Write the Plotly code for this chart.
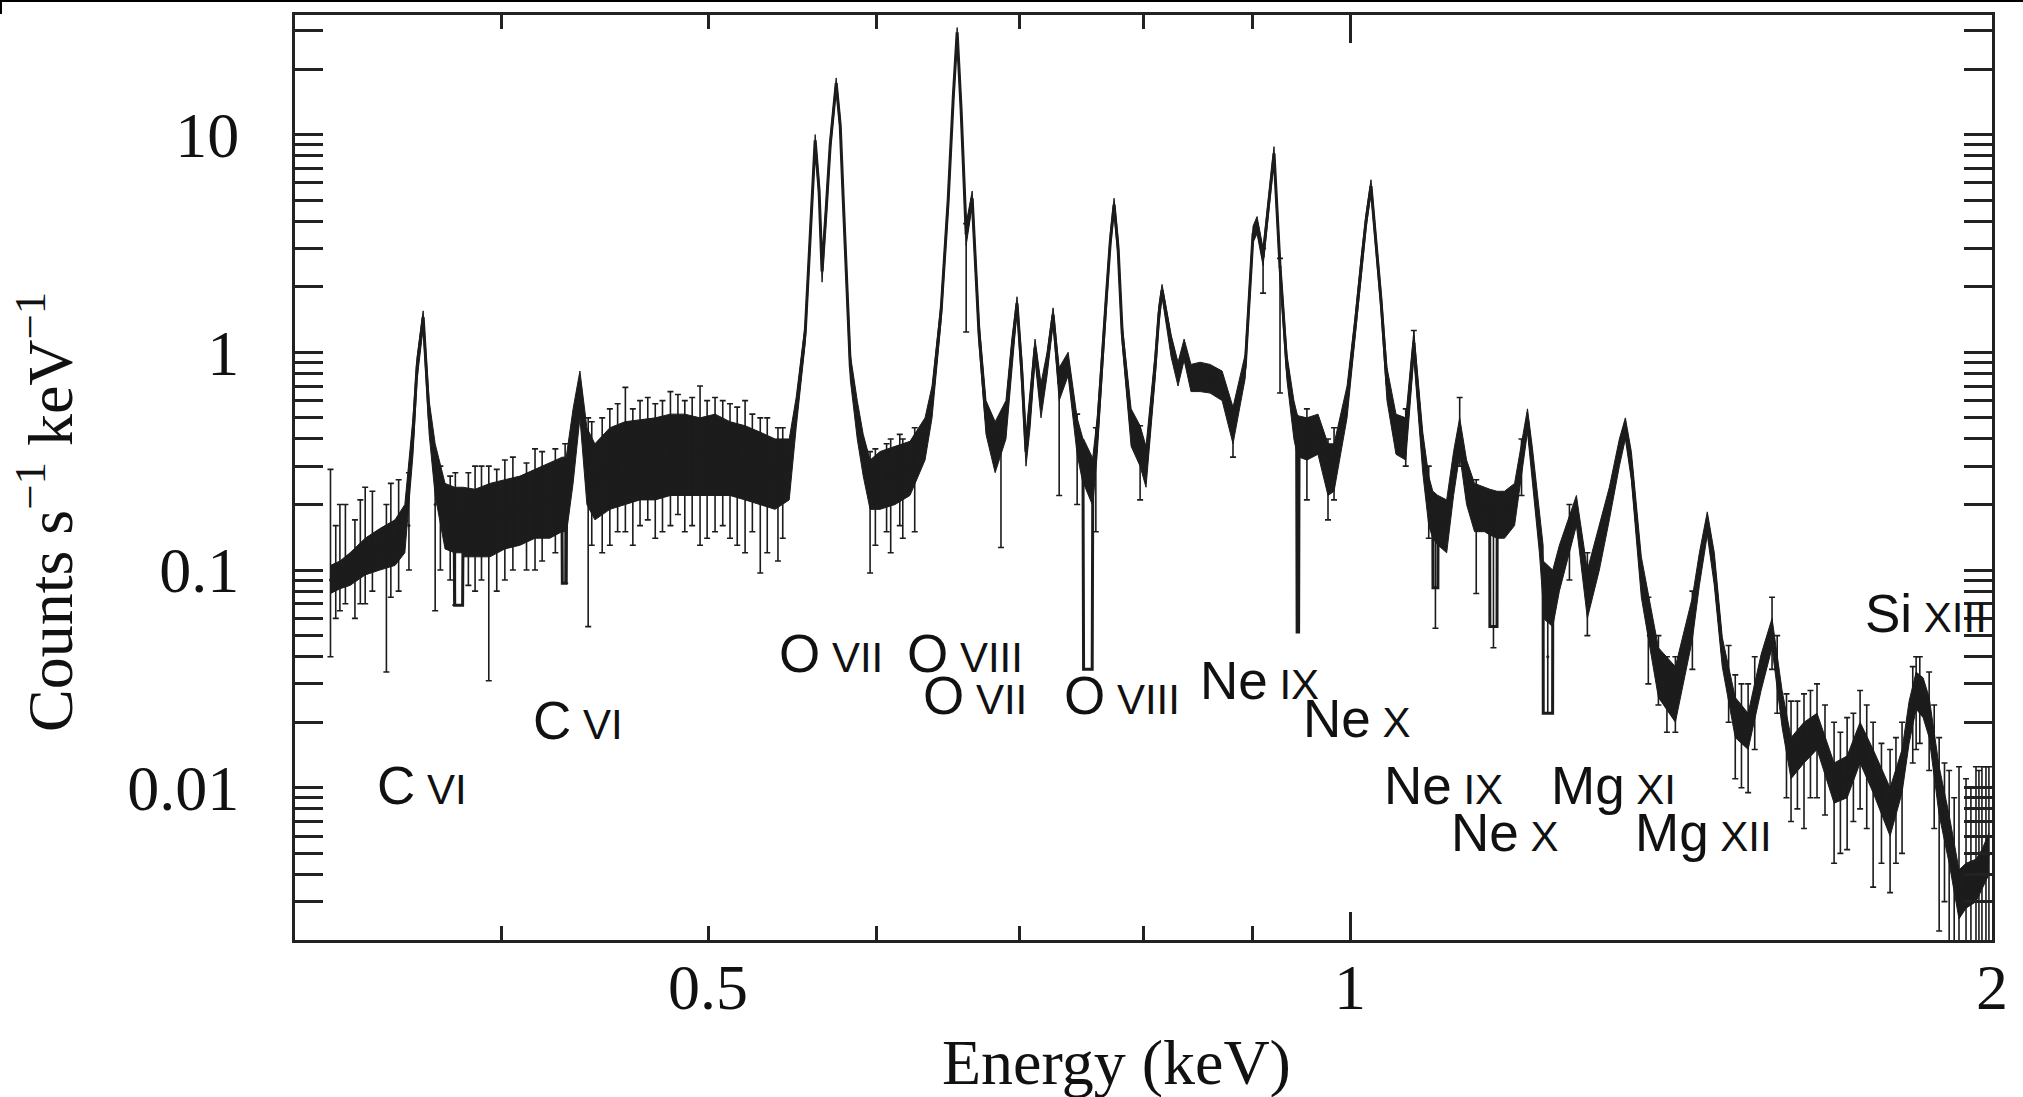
import math
import plotly.graph_objects as go

# ---------------- data ----------------
energy = [0.3326, 0.3360, 0.3397, 0.3453, 0.3508, 0.3566, 0.3604, 0.3636, 0.3652, 0.3676,
          0.3700, 0.3724, 0.3764, 0.3801, 0.3803, 0.3836, 0.3838, 0.3888, 0.3951, 0.4015,
          0.4081, 0.4148, 0.4215, 0.4270, 0.4272, 0.4290, 0.4292, 0.4322, 0.4354, 0.4387,
          0.4425, 0.4497, 0.4571, 0.4646, 0.4723, 0.4801, 0.4876, 0.4957, 0.5038, 0.5120,
          0.5204, 0.5289, 0.5375, 0.5458, 0.5499, 0.5553, 0.5582, 0.5613, 0.5637, 0.5655,
          0.5680, 0.5705, 0.5742, 0.5767, 0.5786, 0.5830, 0.5874, 0.5912, 0.5956, 0.6020,
          0.6119, 0.6218, 0.6320, 0.6368, 0.6431, 0.6480, 0.6516, 0.6543, 0.6571, 0.6607,
          0.6650, 0.6699, 0.6750, 0.6817, 0.6897, 0.6941, 0.6980, 0.7017, 0.7048, 0.7079,
          0.7117, 0.7163, 0.7210, 0.7257, 0.7305, 0.7376, 0.7448, 0.7495, 0.7500, 0.7570,
          0.7575, 0.7611, 0.7685, 0.7719, 0.7751, 0.7785, 0.7819, 0.7895, 0.7972, 0.8023,
          0.8102, 0.8136, 0.8163, 0.8198, 0.8244, 0.8305, 0.8360, 0.8422, 0.8505, 0.8597,
          0.8710, 0.8813, 0.8930, 0.9006, 0.9045, 0.9104, 0.9152, 0.9212, 0.9272, 0.9341,
          0.9412, 0.9440, 0.9445, 0.9460, 0.9465, 0.9545, 0.9660, 0.9765, 0.9829, 0.9968,
          1.0054, 1.0119, 1.0174, 1.0229, 1.0285, 1.0340, 1.0407, 1.0509, 1.0620, 1.0713,
          1.0817, 1.0887, 1.0935, 1.0937, 1.0995, 1.0997, 1.1100, 1.1183, 1.1257, 1.1341,
          1.1439, 1.1563, 1.1628, 1.1630, 1.1720, 1.1722, 1.1815, 1.1944, 1.2034, 1.2112,
          1.2178, 1.2269, 1.2318, 1.2320, 1.2445, 1.2447, 1.2536, 1.2673, 1.2769, 1.2921,
          1.3089, 1.3231, 1.3375, 1.3462, 1.3549, 1.3696, 1.3951, 1.4209, 1.4472, 1.4582,
          1.4707, 1.4819, 1.4947, 1.5158, 1.5370, 1.5587, 1.5772, 1.5944, 1.6099, 1.6326,
          1.6557, 1.6865, 1.7104, 1.7345, 1.7591, 1.7916, 1.8149, 1.8288, 1.8427, 1.8567,
          1.8688, 1.8891, 1.9096, 1.9300, 1.9447, 1.9657, 1.9784, 1.9934]

counts = [0.090, 0.095, 0.100, 0.115, 0.125, 0.135, 0.160, 0.420, 0.860, 1.450,
          0.500, 0.300, 0.180, 0.170, 0.069, 0.069, 0.170, 0.160, 0.170, 0.180,
          0.190, 0.200, 0.210, 0.220, 0.087, 0.087, 0.230, 0.400, 0.700, 0.320,
          0.260, 0.300, 0.320, 0.330, 0.340, 0.340, 0.350, 0.340, 0.350, 0.330,
          0.320, 0.300, 0.280, 0.300, 0.530, 1.230, 3.500, 9.400, 5.500, 2.350,
          4.500, 9.000, 17.20, 11.00, 5.000, 0.860, 0.500, 0.350, 0.250, 0.260,
          0.280, 0.300, 0.400, 0.600, 1.560, 5.000, 15.00, 29.50, 13.00, 3.500,
          5.100, 1.230, 0.500, 0.380, 0.500, 1.000, 1.680, 0.800, 0.350, 0.550,
          1.050, 0.600, 0.900, 1.490, 0.720, 0.890, 0.420, 0.330, 0.035, 0.035,
          0.260, 0.420, 1.740, 3.200, 4.770, 3.000, 1.230, 0.450, 0.380, 0.300,
          0.860, 1.500, 1.930, 1.500, 1.100, 0.800, 1.050, 0.770, 0.780, 0.760,
          0.700, 0.470, 0.860, 3.500, 3.900, 2.750, 4.500, 8.200, 2.470, 0.860,
          0.500, 0.420, 0.052, 0.052, 0.400, 0.400, 0.420, 0.300, 0.300, 0.600,
          1.300, 2.470, 4.000, 5.800, 3.200, 1.740, 0.720, 0.420, 0.400, 1.100,
          0.350, 0.210, 0.180, 0.083, 0.083, 0.170, 0.160, 0.280, 0.420, 0.260,
          0.200, 0.190, 0.185, 0.055, 0.055, 0.180, 0.180, 0.200, 0.320, 0.490,
          0.300, 0.148, 0.100, 0.022, 0.022, 0.075, 0.100, 0.150, 0.190, 0.080,
          0.130, 0.200, 0.350, 0.450, 0.300, 0.093, 0.034, 0.027, 0.060, 0.100,
          0.165, 0.100, 0.042, 0.021, 0.018, 0.034, 0.052, 0.023, 0.0135, 0.016,
          0.018, 0.0105, 0.011, 0.016, 0.012, 0.0078, 0.012, 0.020, 0.028, 0.026,
          0.021, 0.0097, 0.0058, 0.0032, 0.0035, 0.0037, 0.0042, 0.0050]

band_lo = [0.078, 0.082, 0.085, 0.095, 0.100, 0.105, 0.120, 0.340, 0.750, 1.300,
           0.420, 0.220, 0.125, 0.120, 0.120, 0.120, 0.115, 0.115, 0.115, 0.125,
           0.130, 0.140, 0.140, 0.150, 0.150, 0.150, 0.150, 0.250, 0.500, 0.200,
           0.170, 0.190, 0.200, 0.210, 0.210, 0.220, 0.220, 0.220, 0.220, 0.220,
           0.210, 0.200, 0.190, 0.210, 0.450, 1.100, 3.200, 8.800, 5.000, 2.100,
           4.100, 8.400, 16.20, 10.20, 4.600, 0.750, 0.400, 0.270, 0.190, 0.190,
           0.200, 0.220, 0.320, 0.500, 1.400, 4.600, 14.00, 28.00, 12.00, 3.100,
           4.700, 1.100, 0.420, 0.280, 0.400, 0.850, 1.550, 0.680, 0.300, 0.450,
           0.920, 0.500, 0.780, 1.350, 0.600, 0.780, 0.340, 0.250, 0.250, 0.200,
           0.200, 0.340, 1.600, 3.000, 4.400, 2.700, 1.100, 0.370, 0.300, 0.240,
           0.750, 1.350, 1.800, 1.350, 0.950, 0.700, 0.920, 0.660, 0.660, 0.650,
           0.600, 0.380, 0.760, 3.200, 3.500, 2.500, 4.100, 7.600, 2.200, 0.750,
           0.400, 0.340, 0.340, 0.330, 0.330, 0.320, 0.340, 0.220, 0.230, 0.500,
           1.150, 2.250, 3.700, 5.400, 2.900, 1.550, 0.600, 0.340, 0.320, 0.950,
           0.280, 0.160, 0.140, 0.140, 0.130, 0.130, 0.120, 0.220, 0.340, 0.200,
           0.150, 0.150, 0.145, 0.145, 0.140, 0.140, 0.140, 0.160, 0.270, 0.430,
           0.250, 0.120, 0.070, 0.060, 0.055, 0.055, 0.080, 0.120, 0.160, 0.060,
           0.100, 0.170, 0.300, 0.400, 0.260, 0.075, 0.026, 0.020, 0.048, 0.085,
           0.145, 0.085, 0.036, 0.017, 0.015, 0.028, 0.044, 0.019, 0.011, 0.013,
           0.015, 0.0085, 0.009, 0.013, 0.0095, 0.006, 0.0095, 0.016, 0.023, 0.021,
           0.017, 0.0075, 0.0045, 0.0025, 0.0028, 0.0030, 0.0034, 0.0040]

band_hi = [0.105, 0.110, 0.120, 0.140, 0.155, 0.170, 0.200, 0.500, 0.950, 1.550,
           0.600, 0.380, 0.250, 0.240, 0.240, 0.240, 0.240, 0.235, 0.250, 0.260,
           0.270, 0.290, 0.310, 0.330, 0.330, 0.330, 0.340, 0.550, 0.820, 0.450,
           0.380, 0.450, 0.480, 0.490, 0.500, 0.520, 0.520, 0.500, 0.520, 0.480,
           0.460, 0.430, 0.400, 0.400, 0.620, 1.350, 3.800, 10.00, 6.000, 2.600,
           4.900, 9.600, 18.20, 11.80, 5.400, 0.980, 0.600, 0.420, 0.320, 0.350,
           0.370, 0.390, 0.500, 0.700, 1.700, 5.400, 16.00, 31.00, 14.00, 3.900,
           5.500, 1.400, 0.600, 0.480, 0.600, 1.150, 1.800, 0.920, 0.420, 0.650,
           1.150, 0.720, 1.000, 1.600, 0.850, 1.000, 0.500, 0.400, 0.400, 0.330,
           0.330, 0.500, 1.900, 3.500, 5.100, 3.300, 1.350, 0.550, 0.460, 0.370,
           0.980, 1.650, 2.050, 1.650, 1.200, 0.900, 1.150, 0.880, 0.900, 0.880,
           0.820, 0.560, 0.980, 3.800, 4.200, 3.000, 4.900, 8.800, 2.700, 0.980,
           0.600, 0.520, 0.520, 0.510, 0.510, 0.500, 0.520, 0.380, 0.380, 0.700,
           1.450, 2.700, 4.300, 6.200, 3.500, 1.900, 0.850, 0.520, 0.500, 1.250,
           0.430, 0.270, 0.230, 0.230, 0.220, 0.220, 0.210, 0.350, 0.500, 0.320,
           0.250, 0.240, 0.235, 0.235, 0.230, 0.230, 0.230, 0.250, 0.380, 0.550,
           0.360, 0.180, 0.130, 0.110, 0.100, 0.100, 0.130, 0.180, 0.220, 0.100,
           0.160, 0.240, 0.400, 0.500, 0.350, 0.115, 0.044, 0.036, 0.075, 0.120,
           0.185, 0.120, 0.049, 0.026, 0.022, 0.041, 0.060, 0.028, 0.017, 0.020,
           0.022, 0.013, 0.014, 0.020, 0.015, 0.010, 0.015, 0.025, 0.034, 0.032,
           0.026, 0.0125, 0.0075, 0.0042, 0.0045, 0.0047, 0.0052, 0.0062]

# individual error bars that stick out of the dense band
spike_e = [0.3326, 0.3345, 0.3360, 0.3380, 0.3415, 0.3435, 0.3453, 0.3480, 0.3533, 0.3550,
           0.3580, 0.3620, 0.3724, 0.3745, 0.3785, 0.3806, 0.3860, 0.3888, 0.3915, 0.3946,
           0.3980, 0.4015, 0.4050, 0.4110, 0.4148, 0.4180, 0.4240, 0.4285, 0.4393, 0.4410,
           0.4460, 0.4497, 0.4535, 0.4573, 0.4610, 0.4646, 0.4685, 0.4723, 0.4760, 0.4801,
           0.4840, 0.4876, 0.4915, 0.4957, 0.4995, 0.5038, 0.5080, 0.5120, 0.5160, 0.5204,
           0.5245, 0.5290, 0.5330, 0.5392, 0.5420, 0.5956, 0.5990, 0.6063, 0.6090, 0.6150,
           0.6170, 0.6250, 0.6607, 0.6860, 0.7305, 0.7448, 0.7600, 0.7972, 0.8813, 0.9104,
           0.9272, 0.9545, 0.9765, 0.9829, 1.0620, 1.0713, 1.0887, 1.0966, 1.1257, 1.1460,
           1.1675, 1.2034, 1.2380, 1.2673, 1.2921, 1.3800, 1.3951, 1.4080, 1.4209, 1.4472,
           1.5050, 1.5158, 1.5260, 1.5370, 1.5480, 1.5772, 1.5860, 1.6020, 1.6099, 1.6210,
           1.6326, 1.6440, 1.6557, 1.6700, 1.6865, 1.6980, 1.7104, 1.7220, 1.7345, 1.7470,
           1.7591, 1.7750, 1.7916, 1.8030, 1.8149, 1.8360, 1.8427, 1.8500, 1.8688, 1.8790,
           1.8891, 1.9000, 1.9096, 1.9200, 1.9300, 1.9447, 1.9550, 1.9657, 1.9720, 1.9784,
           1.9870, 1.9934]
spike_c = [0.090, 0.090, 0.095, 0.100, 0.100, 0.110, 0.115, 0.120, 0.110, 0.130,
           0.130, 0.160, 0.200, 0.190, 0.170, 0.160, 0.160, 0.170, 0.170, 0.170,
           0.170, 0.180, 0.190, 0.200, 0.200, 0.200, 0.210, 0.220, 0.300, 0.260,
           0.280, 0.300, 0.300, 0.320, 0.320, 0.330, 0.330, 0.340, 0.340, 0.340,
           0.350, 0.350, 0.340, 0.340, 0.350, 0.350, 0.340, 0.330, 0.330, 0.320,
           0.310, 0.300, 0.290, 0.280, 0.290, 0.250, 0.250, 0.270, 0.270, 0.280,
           0.280, 0.300, 3.500, 0.400, 0.720, 0.420, 0.350, 0.380, 0.470, 2.750,
           2.470, 0.400, 0.300, 0.300, 0.400, 1.100, 0.210, 0.083, 0.420, 0.200,
           0.055, 0.320, 0.040, 0.150, 0.080, 0.050, 0.034, 0.028, 0.027, 0.060,
           0.030, 0.021, 0.019, 0.018, 0.025, 0.052, 0.035, 0.017, 0.0135, 0.015,
           0.016, 0.017, 0.018, 0.014, 0.0105, 0.010, 0.011, 0.013, 0.016, 0.014,
           0.012, 0.009, 0.0078, 0.0095, 0.012, 0.024, 0.028, 0.027, 0.021, 0.014,
           0.0097, 0.007, 0.0058, 0.004, 0.0032, 0.0035, 0.0034, 0.0037, 0.0038, 0.0042,
           0.0045, 0.0050]
spike_lo = [0.040, 0.060, 0.065, 0.070, 0.060, 0.070, 0.070, 0.080, 0.034, 0.075,
            0.080, 0.100, 0.065, 0.100, 0.090, 0.069, 0.085, 0.080, 0.090, 0.031,
            0.080, 0.090, 0.100, 0.100, 0.100, 0.110, 0.120, 0.087, 0.055, 0.130,
            0.120, 0.130, 0.150, 0.150, 0.130, 0.160, 0.170, 0.140, 0.150, 0.160,
            0.180, 0.150, 0.160, 0.130, 0.140, 0.150, 0.160, 0.140, 0.130, 0.120,
            0.150, 0.097, 0.120, 0.110, 0.140, 0.097, 0.130, 0.150, 0.120, 0.160,
            0.140, 0.150, 1.240, 0.127, 0.220, 0.200, 0.150, 0.210, 0.330, 1.870,
            0.650, 0.210, 0.170, 0.210, 0.300, 0.900, 0.140, 0.054, 0.300, 0.078,
            0.044, 0.220, 0.022, 0.090, 0.050, 0.030, 0.024, 0.018, 0.018, 0.035,
            0.020, 0.011, 0.010, 0.0095, 0.015, 0.035, 0.022, 0.009, 0.007, 0.008,
            0.0065, 0.009, 0.009, 0.0075, 0.0045, 0.005, 0.0052, 0.007, 0.008, 0.0065,
            0.0035, 0.0045, 0.0033, 0.0045, 0.005, 0.013, 0.015, 0.016, 0.012, 0.0065,
            0.0022, 0.003, 0.0015, 0.0015, 0.0012, 0.0012, 0.0012, 0.0012, 0.0012, 0.0012,
            0.0012, 0.0012]
spike_hi = [0.290, 0.160, 0.200, 0.200, 0.170, 0.210, 0.240, 0.230, 0.200, 0.250,
            0.260, 0.280, 0.300, 0.300, 0.270, 0.280, 0.280, 0.300, 0.300, 0.300,
            0.290, 0.320, 0.330, 0.310, 0.360, 0.350, 0.360, 0.380, 0.500, 0.480,
            0.500, 0.550, 0.580, 0.690, 0.550, 0.600, 0.620, 0.580, 0.600, 0.660,
            0.640, 0.600, 0.620, 0.700, 0.600, 0.620, 0.600, 0.580, 0.560, 0.600,
            0.520, 0.500, 0.500, 0.450, 0.450, 0.350, 0.360, 0.380, 0.400, 0.420,
            0.400, 0.450, 3.900, 0.500, 0.850, 0.520, 0.450, 0.460, 0.560, 3.000,
            2.700, 0.550, 0.400, 0.450, 0.550, 1.260, 0.300, 0.150, 0.620, 0.260,
            0.200, 0.400, 0.100, 0.200, 0.120, 0.075, 0.050, 0.040, 0.040, 0.080,
            0.045, 0.033, 0.030, 0.030, 0.040, 0.075, 0.050, 0.027, 0.025, 0.025,
            0.027, 0.028, 0.030, 0.024, 0.020, 0.018, 0.021, 0.022, 0.028, 0.024,
            0.020, 0.016, 0.015, 0.017, 0.020, 0.036, 0.040, 0.040, 0.034, 0.024,
            0.017, 0.013, 0.012, 0.009, 0.0125, 0.011, 0.010, 0.0125, 0.012, 0.0125,
            0.0125, 0.0125]

x_tick_vals = [0.5, 1, 2]
x_tick_text = ["0.5", "1", "2"]
x_minor_vals = [0.4, 0.6, 0.7, 0.8, 0.9]
x_long_vals = [1, 2]
y_tick_vals = [0.01, 0.1, 1, 10]
y_tick_text = ["0.01", "0.1", "1", "10"]
y_minor_vals = [0.003, 0.004, 0.005, 0.006, 0.007, 0.008, 0.009,
                0.02, 0.03, 0.04, 0.05, 0.06, 0.07, 0.08, 0.09,
                0.2, 0.3, 0.4, 0.5, 0.6, 0.7, 0.8, 0.9,
                2, 3, 4, 5, 6, 7, 8, 9, 20, 30]

line_elements = ["C", "C", "O", "O", "O", "O", "Ne", "Ne", "Ne", "Ne", "Mg", "Mg", "Si"]
line_ions = ["VI", "VI", "VII", "VIII", "VII", "VIII", "IX", "X", "IX", "X", "XI", "XII", "XIII"]

x_range = [0.3201, 2.0]
y_range = [0.002, 35.4]

# ---------------- layout geometry (pixels) ----------------
W, H = 2023, 1097
L, R, T, B = 295, 31, 15, 157
PW, PH = W - L - R, H - T - B
INK = "#1c1c1c"
FRAME = "#222222"
SERIF = "Liberation Serif, Times New Roman, serif"
SANS = "Liberation Sans, Arial, Helvetica, sans-serif"


def px(xp):
    return (xp - L) / PW


def py(yp):
    return (T + PH - yp) / PH


# label anchor pixels (left edge, text baseline)
label_pos = [(377, 805), (533, 740), (779, 673), (907, 673), (923, 715), (1064, 715),
             (1200, 700), (1303, 738), (1384, 805), (1451, 852), (1551, 805), (1635, 852),
             (1865, 633)]

fig = go.Figure()

# dense noise band
fig.add_trace(go.Scatter(x=energy, y=band_hi, mode="lines",
                         line=dict(color=INK, width=1), hoverinfo="skip"))
fig.add_trace(go.Scatter(x=energy, y=band_lo, mode="lines", fill="tonexty",
                         fillcolor=INK, line=dict(color=INK, width=1), hoverinfo="skip"))
# spectrum line
fig.add_trace(go.Scatter(x=energy, y=counts, mode="lines",
                         line=dict(color=INK, width=3)))
# protruding error bars
fig.add_trace(go.Scatter(
    x=spike_e, y=spike_c, mode="markers",
    marker=dict(size=3, color=INK),
    error_y=dict(type="data", symmetric=False,
                 array=[h - c for h, c in zip(spike_hi, spike_c)],
                 arrayminus=[c - l for c, l in zip(spike_c, spike_lo)],
                 color=INK, thickness=1.6, width=3)))
# carrier for the long major x ticks
fig.add_trace(go.Scatter(x=[], y=[], xaxis="x2", yaxis="y", hoverinfo="skip"))

lx = [math.log10(v) for v in x_range]
ly = [math.log10(v) for v in y_range]

fig.update_layout(
    width=W, height=H,
    margin=dict(l=L, r=R, t=T, b=B, pad=0),
    paper_bgcolor="white", plot_bgcolor="white",
    showlegend=False,
    xaxis=dict(type="log", range=lx, showgrid=False, zeroline=False,
               showline=True, linewidth=3, linecolor=FRAME, mirror="allticks",
               ticks="inside", ticklen=14, tickwidth=3, tickcolor=FRAME,
               tickvals=x_tick_vals, ticktext=x_tick_text,
               tickfont=dict(family=SERIF, size=64, color="#111"),
               ticklabelstandoff=-11,
               minor=dict(tickvals=x_minor_vals, ticks="inside", ticklen=14,
                          tickwidth=3, tickcolor=FRAME, showgrid=False)),
    xaxis2=dict(type="log", range=lx, overlaying="x", anchor="y", side="bottom",
                showgrid=False, zeroline=False, showline=False, mirror="allticks",
                ticks="inside", ticklen=28, tickwidth=3, tickcolor=FRAME,
                tickvals=x_long_vals, showticklabels=False),
    yaxis=dict(type="log", range=ly, showgrid=False, zeroline=False,
               showline=True, linewidth=3, linecolor=FRAME, mirror="allticks",
               ticks="inside", ticklen=28, tickwidth=3, tickcolor=FRAME,
               tickvals=y_tick_vals, ticktext=y_tick_text,
               tickfont=dict(family=SERIF, size=64, color="#111"),
               ticklabelstandoff=40,
               minor=dict(tickvals=y_minor_vals, ticks="inside", ticklen=14,
                          tickwidth=3, tickcolor=FRAME, showgrid=False)),
)

annotations = []
for el, ion, (lxp, bl) in zip(line_elements, line_ions, label_pos):
    annotations.append(dict(
        xref="paper", yref="paper", x=px(lxp - 2), y=py(bl + 12),
        xanchor="left", yanchor="bottom", showarrow=False,
        text=f"{el}<span style='font-size:42px'> {ion}</span>",
        font=dict(family=SANS, size=53, color="#111")))

annotations.append(dict(xref="paper", yref="paper", x=px(1116), y=py(1062),
                        xanchor="center", yanchor="middle", showarrow=False,
                        text="Energy (keV)",
                        font=dict(family=SERIF, size=64, color="#111")))
annotations.append(dict(xref="paper", yref="paper", x=px(45), y=py(512),
                        xanchor="center", yanchor="middle", showarrow=False,
                        textangle=-90,
                        text="Counts s<sup>−1</sup> keV<sup>−1</sup>",
                        font=dict(family=SERIF, size=64, color="#111")))
fig.update_layout(annotations=annotations)

fig.update_layout(shapes=[
    dict(type="line", xref="paper", yref="paper", x0=px(0), x1=px(W), y0=py(1), y1=py(1),
         line=dict(color="black", width=2)),
    dict(type="line", xref="paper", yref="paper", x0=px(1), x1=px(1), y0=py(0), y1=py(14),
         line=dict(color="black", width=2)),
])

fig.write_html("out.html",
               config={"displayModeBar": False},
               post_script="document.body.style.margin='0';document.body.style.overflow='hidden';")
